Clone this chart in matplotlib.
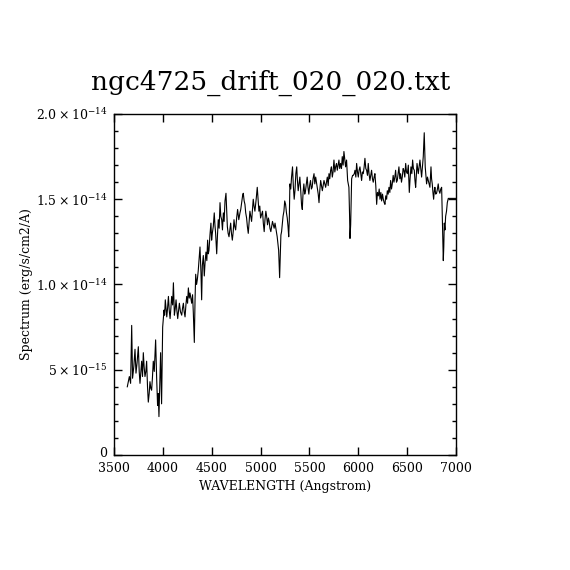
import matplotlib
matplotlib.use('Agg')
import matplotlib.pyplot as plt
import matplotlib.transforms as mtransforms
from matplotlib.ticker import MultipleLocator, FixedLocator, FixedFormatter

# spectrum (flux in units of 1e-15 erg/s/cm2/A)
wave = [3636, 3657, 3670, 3681, 3690, 3703, 3715, 3725, 3736, 3749, 3758, 3766, 3775, 3783,
        3792, 3800, 3808, 3817, 3826, 3834, 3843, 3851, 3860, 3868, 3877, 3885, 3893, 3902,
        3912, 3926, 3936, 3946, 3953, 3960, 3968, 3977, 3987, 3998, 4005, 4012, 4018, 4025,
        4032, 4040, 4048, 4057, 4065, 4074, 4082, 4090, 4100, 4108, 4118, 4127, 4135, 4143,
        4152, 4160, 4169, 4180, 4193, 4201, 4210, 4218, 4227, 4236, 4244, 4253, 4261, 4270,
        4278, 4295, 4304, 4312, 4322, 4329, 4336, 4345, 4353, 4362, 4370, 4380, 4390, 4397,
        4404, 4414, 4424, 4432, 4441, 4450, 4458, 4465, 4472, 4482, 4492, 4499, 4506, 4516,
        4526, 4533, 4540, 4551, 4559, 4567, 4576, 4585, 4593, 4602, 4610, 4619, 4627, 4636,
        4646, 4653, 4660, 4668, 4677, 4685, 4694, 4702, 4711, 4720, 4728, 4736, 4745, 4755,
        4765, 4777, 4789, 4797, 4806, 4817, 4823, 4832, 4840, 4848, 4857, 4865, 4874, 4882,
        4891, 4900, 4908, 4917, 4925, 4933, 4942, 4955, 4966, 4975, 4983, 4992, 5000, 5010,
        5020, 5028, 5037, 5045, 5054, 5062, 5071, 5080, 5088, 5096, 5105, 5113, 5122, 5130,
        5139, 5148, 5156, 5163, 5170, 5178, 5185, 5195, 5202, 5208, 5215, 5222, 5230, 5239,
        5247, 5256, 5265, 5273, 5281, 5288, 5294, 5300, 5309, 5317, 5327, 5335, 5344, 5352,
        5361, 5370, 5376, 5385, 5393, 5402, 5410, 5419, 5427, 5435, 5443, 5452, 5460, 5468,
        5477, 5485, 5494, 5502, 5511, 5520, 5528, 5537, 5547, 5555, 5564, 5572, 5581, 5590,
        5598, 5606, 5615, 5623, 5632, 5640, 5649, 5657, 5666, 5675, 5683, 5692, 5700, 5708,
        5717, 5725, 5734, 5742, 5751, 5760, 5768, 5777, 5785, 5794, 5802, 5810, 5819, 5828,
        5836, 5845, 5853, 5862, 5870, 5880, 5891, 5904, 5911, 5915, 5922, 5932, 5942, 5949,
        5959, 5966, 5975, 5983, 5992, 6000, 6008, 6017, 6025, 6034, 6042, 6051, 6060, 6068,
        6077, 6085, 6094, 6102, 6110, 6119, 6128, 6136, 6145, 6153, 6162, 6170, 6179, 6188,
        6196, 6205, 6214, 6222, 6231, 6239, 6248, 6256, 6265, 6273, 6281, 6290, 6297, 6306,
        6314, 6323, 6331, 6340, 6348, 6357, 6365, 6374, 6382, 6391, 6399, 6408, 6416, 6425,
        6433, 6442, 6450, 6459, 6467, 6476, 6485, 6493, 6502, 6512, 6522, 6530, 6539, 6548,
        6556, 6564, 6573, 6580, 6587, 6594, 6601, 6608, 6614, 6622, 6631, 6640, 6648, 6657,
        6665, 6675, 6685, 6692, 6699, 6708, 6716, 6725, 6733, 6744, 6750, 6757, 6764, 6771,
        6778, 6784, 6792, 6801, 6810, 6818, 6826, 6835, 6844, 6853, 6860, 6870, 6875, 6880,
        6887, 6894, 6903, 6911, 6921, 7000]
flux = [4.0, 4.6, 4.2, 7.6, 4.5, 5.2, 6.2, 4.8, 5.4, 6.35, 4.9, 4.2, 4.9, 5.5,
        4.6, 6.0, 5.2, 4.6, 4.9, 5.5, 4.0, 3.1, 3.6, 4.3, 3.9, 3.8, 4.5, 5.5,
        4.9, 6.75, 4.6, 2.9, 3.6, 2.25, 4.0, 6.0, 3.0, 7.5, 8.0, 8.5, 8.2, 9.1,
        8.6, 8.1, 8.6, 9.3, 8.5, 8.0, 8.6, 9.3, 8.8, 10.1, 8.2, 8.6, 9.1, 8.5,
        8.0, 8.4, 8.9, 8.4, 8.2, 8.6, 8.9, 8.4, 8.1, 8.8, 9.3, 8.9, 9.8, 9.2,
        9.5, 8.9, 9.4, 8.3, 6.6, 9.0, 10.6, 10.0, 10.3, 10.8, 11.4, 12.2, 10.7, 9.1,
        11.1, 11.7, 10.5, 11.3, 11.9, 11.4, 12.6, 11.8, 12.0, 12.9, 13.6, 12.6, 13.0, 13.4,
        14.2, 13.5, 13.0, 11.8, 12.9, 13.8, 13.3, 14.8, 14.0, 13.8, 13.2, 14.2, 13.7, 14.9,
        15.35, 14.3, 13.4, 13.0, 12.8, 13.2, 13.6, 13.0, 12.6, 13.1, 13.8, 13.4, 13.2, 13.9,
        14.4, 13.8, 14.2, 14.4, 14.8, 15.25, 15.35, 14.9, 14.7, 14.2, 13.9, 13.4, 13.0, 13.6,
        14.3, 14.0, 13.7, 14.4, 15.0, 14.6, 14.3, 15.0, 15.7, 15.0, 14.3, 14.6, 13.9, 14.1,
        14.3, 13.6, 13.1, 13.8, 14.3, 14.0, 13.5, 13.9, 13.7, 13.3, 13.1, 13.4, 13.7, 13.5,
        13.3, 13.6, 13.3, 13.0, 12.8, 12.4, 12.0, 10.4, 11.8, 12.9, 13.1, 13.5, 14.0, 14.3,
        14.9, 14.7, 14.2, 13.9, 13.4, 12.8, 13.8, 15.9, 15.6, 16.3, 16.9, 15.8, 15.0, 15.5,
        16.5, 16.9, 16.2, 15.5, 15.9, 16.3, 15.6, 14.7, 14.4, 15.4, 15.9, 15.3, 15.5, 15.9,
        16.3, 15.7, 15.3, 15.8, 16.1, 15.6, 15.7, 16.2, 16.5, 15.9, 16.3, 16.0, 15.7, 15.3,
        14.8, 15.5, 16.1, 15.8, 15.5, 15.8, 16.1, 15.9, 15.7, 16.0, 16.3, 15.8, 16.5, 16.2,
        16.7, 16.9, 16.3, 16.6, 17.3, 16.6, 16.9, 17.1, 16.7, 17.0, 17.3, 16.8, 17.1, 16.8,
        17.5, 17.0, 17.8, 17.3, 16.9, 17.3, 16.1, 15.7, 14.0, 12.7, 13.5, 16.2, 16.4, 16.4,
        16.5, 16.7, 16.3, 17.1, 16.6, 16.3, 16.7, 16.9, 16.5, 16.1, 16.6, 16.5, 16.9, 17.4,
        16.8, 16.7, 16.4, 17.1, 16.5, 16.1, 16.4, 16.7, 16.2, 16.0, 16.3, 16.5, 15.8, 14.7,
        15.4, 15.2, 15.6, 15.0, 15.4, 14.9, 15.3, 15.0, 14.8, 14.7, 15.2, 15.0, 15.5, 15.3,
        15.7, 15.4, 16.1, 15.6, 15.9, 16.4, 16.0, 16.3, 16.7, 16.0, 16.1, 16.5, 16.9, 16.2,
        16.5, 16.0, 16.3, 16.8, 16.7, 16.3, 17.1, 16.6, 16.5, 17.0, 15.4, 16.2, 16.9, 16.5,
        17.3, 16.8, 16.7, 16.1, 15.7, 16.4, 17.1, 16.8, 16.5, 16.9, 17.3, 16.8, 16.3, 16.9,
        17.5, 18.9, 16.9, 16.4, 15.9, 16.3, 16.1, 15.9, 15.7, 16.9, 16.2, 15.9, 15.4, 15.0,
        15.5, 15.7, 15.3, 15.35, 15.6, 15.9, 15.5, 15.35, 15.6, 15.7, 14.0, 11.4, 12.2, 13.6,
        13.2, 14.0, 14.3, 14.8, 15.05, 15.05]

xticks = [3500, 4000, 4500, 5000, 5500, 6000, 6500, 7000]
yticks = [0, 5e-15, 1e-14, 1.5e-14, 2e-14]
ytick_labels = ['0', r'$5\times10^{-15}$', r'$1.0\times10^{-14}$',
                r'$1.5\times10^{-14}$', r'$2.0\times10^{-14}$']

plt.rcParams['font.family'] = 'DejaVu Serif'
plt.rcParams['mathtext.fontset'] = 'dejavuserif'

fig = plt.figure(figsize=(5.7, 5.7), dpi=100)
ax = fig.add_axes([0.2, 0.2018, 0.6, 0.5982])

ax.plot(wave, [f * 1e-15 for f in flux], color='black', lw=0.8)

ax.set_xlim(3500, 7000)
ax.set_ylim(0, 2e-14)
ax.xaxis.set_major_locator(FixedLocator(xticks))
ax.yaxis.set_major_locator(FixedLocator(yticks))
ax.yaxis.set_major_formatter(FixedFormatter(ytick_labels))
ax.yaxis.set_minor_locator(MultipleLocator(1e-15))

ax.tick_params(which='both', direction='in', top=True, right=True, width=1, labelsize=9)
ax.tick_params(which='major', length=6)
ax.tick_params(which='minor', length=3)
ax.tick_params(axis='x', pad=5)
ax.tick_params(axis='y', pad=5)
for s in ax.spines.values():
    s.set_linewidth(1)

# lift the "0" label a little off the x tick labels
fig.canvas.draw()
lab0 = ax.yaxis.get_majorticklabels()[0]
lab0.set_transform(lab0.get_transform() + mtransforms.ScaledTranslation(0, 3 / 100, fig.dpi_scale_trans))

ax.set_xlabel('WAVELENGTH (Angstrom)', fontsize=9, labelpad=4)
ax.set_ylabel('Spectrum (erg/s/cm2/A)', fontsize=9, labelpad=2)
fig.text(0.474, 0.854, 'ngc4725_drift_020_020.txt', fontsize=19, ha='center', va='center')

plt.savefig('out.png', dpi=100)
